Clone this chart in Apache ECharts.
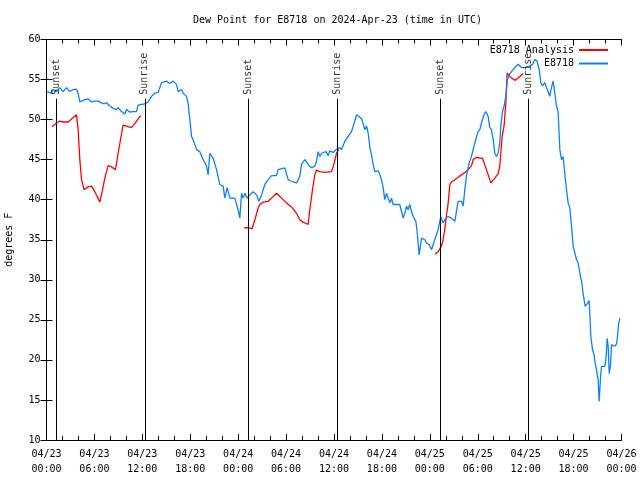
<!DOCTYPE html>
<html>
<head>
<meta charset="utf-8">
<script src="https://cdn.jsdelivr.net/npm/echarts@6/dist/echarts.min.js"></script>
<style>
html,body{margin:0;padding:0;background:#fff;}
#chart{width:640px;height:480px;}
</style>
</head>
<body>
<div id="chart"></div>
<script>
// Hours since 2024-04-23 00:00 UTC, dew point in degrees F
var obsData = [
[0,53.5],[0.20,53.5],[0.63,53.3],[0.83,53.75],[1.26,53.5],[1.67,54],[2.08,53.5],[2.51,54],[2.92,53.5],[3.33,53.75],
[3.76,53.8],[3.96,53.3],[4.17,52.2],[4.80,52.5],[5.21,52.6],[5.64,52.2],[6.05,52.3],[6.46,52.3],[6.68,52.4],[7.09,52.0],
[7.52,52.1],[7.93,51.7],[8.34,51.4],[8.77,51.25],[8.97,51.5],[9.39,51.0],[9.81,50.7],[10.02,51.25],[10.43,50.95],[10.85,51.0],
[11.27,51.0],[11.47,51.8],[11.90,51.9],[12.31,51.95],[12.73,52.2],[13.15,52.9],[13.56,53.3],[13.98,53.4],[14.40,54.6],[15.03,54.8],
[15.44,54.5],[15.86,54.8],[16.28,54.4],[16.48,53.5],[16.91,53.75],[17.11,53.3],[17.53,52.9],[17.73,52.1],[17.95,50.0],[18.16,47.9],
[18.36,47.5],[18.79,46.25],[19.20,46.0],[19.61,45.0],[20.04,44.2],[20.24,43.1],[20.45,45.8],[20.86,45.2],[21.29,43.75],[21.70,41.9],
[22.12,41.7],[22.33,40.2],[22.62,41.5],[22.96,40.2],[23.58,40.2],[23.79,40.0],[23.99,38.75],[24.21,37.7],[24.42,40.8],[24.62,40.2],
[24.83,40.8],[25.12,40.2],[25.46,40.6],[25.87,41.0],[26.30,40.6],[26.59,39.8],[26.93,40.6],[27.34,41.9],[27.75,42.5],[28.18,43.0],
[28.80,43.0],[29.00,43.75],[29.84,43.96],[30.05,43.75],[30.26,42.5],[30.68,42.3],[31.31,42.1],[31.72,42.9],[31.93,44.4],[32.35,45.0],
[32.76,44.4],[33.19,44.0],[33.60,44.2],[33.81,44.8],[34.01,46.0],[34.22,45.4],[34.44,45.8],[34.64,45.6],[34.98,46.0],[35.26,45.5],
[35.48,46.1],[35.89,45.9],[36.32,46.3],[36.73,46.5],[36.94,46.25],[37.36,47.3],[37.77,47.9],[38.20,48.5],[38.40,48.5],[38.83,50.6],
[39.03,50.4],[39.46,50.1],[39.86,48.75],[40.07,49.2],[40.28,48.3],[40.49,46.5],[40.70,45.6],[40.90,44.4],[41.11,43.5],[41.32,43.5],
[41.53,43.6],[41.74,43.1],[41.95,42.5],[42.15,41.5],[42.36,40.0],[42.57,40.8],[42.78,40.2],[42.99,39.6],[43.20,40.2],[43.40,39.4],
[44.24,39.4],[44.45,39.4],[44.66,37.7],[44.87,38.3],[45.08,39.2],[45.28,38.75],[45.49,39.4],[45.71,38.5],[45.91,37.9],[46.25,37.3],
[46.41,36.0],[46.66,33.1],[46.96,35.2],[47.37,35.0],[47.58,34.6],[47.91,34.4],[48.21,33.75],[48.41,33.75],[48.75,35.4],[49.04,36.25],
[49.37,37.9],[49.66,37.1],[50.00,37.7],[50.29,37.9],[50.71,37.7],[51.13,37.3],[51.54,39.8],[51.97,39.8],[52.17,39.2],[52.38,41.25],
[52.59,43.0],[52.92,44.6],[53.22,45.4],[53.42,46.25],[53.85,47.9],[54.05,48.5],[54.26,48.75],[54.47,49.6],[54.76,50.6],[55.01,51.0],
[55.30,50.4],[55.51,49.0],[55.72,48.75],[55.93,47.5],[56.14,45.8],[56.35,45.4],[56.55,45.8],[56.76,47.1],[56.89,49.2],[57.10,51.0],
[57.30,51.7],[57.52,52.9],[57.68,54.8],[57.93,55.6],[58.23,56.0],[58.64,56.5],[59.06,56.9],[59.48,56.5],[59.89,56.5],[60.52,56.7],
[60.86,56.9],[61.15,57.5],[61.43,57.3],[61.69,56.25],[61.90,54.6],[62.11,54.2],[62.40,54.6],[62.61,54.0],[62.81,53.5],[63.02,52.9],
[63.23,54.0],[63.44,54.8],[63.65,53.3],[63.86,51.7],[64.06,51.0],[64.28,46.25],[64.49,45.0],[64.69,45.4],[64.90,43.3],[65.11,41.25],
[65.32,39.6],[65.53,39.0],[65.74,36.7],[65.95,34.2],[66.16,34.4],[66.37,32.5],[66.57,32.1],[66.87,30.4],[67.04,29.6],[67.16,28.5],
[67.32,27.5],[67.45,26.7],[67.70,27.0],[67.95,27.4],[68.03,25.8],[68.16,22.9],[68.37,21.3],[68.57,20.6],[68.70,19.6],[68.87,18.75],
[69.08,17.5],[69.20,14.8],[69.38,17.9],[69.50,19.2],[69.91,19.2],[70.04,20.0],[70.21,22.7],[70.33,21.7],[70.46,18.3],[70.63,19.4],
[70.75,21.9],[70.96,22.0],[71.17,21.7],[71.38,22.0],[71.50,22.9],[71.63,24.4],[71.79,25.2]
];

var analysisSeg1 = [
[0.71,49.1],[1.26,49.6],[1.67,49.8],[2.08,49.7],[2.71,49.7],[3.76,50.6],[3.96,48.75],[4.17,45.0],[4.39,42.5],[4.71,41.25],
[5.21,41.6],[5.64,41.7],[6.05,41.0],[6.39,40.3],[6.68,39.7],[6.97,41.0],[7.30,42.7],[7.72,44.25],[8.14,44.1],[8.64,43.75],
[8.97,45.8],[9.59,49.3],[10.02,49.2],[10.65,49.0],[11.06,49.5],[11.77,50.5]
];
var analysisSeg2 = [
[24.75,36.5],[25.25,36.5],[25.75,36.4],[26.09,37.5],[26.50,38.96],[26.71,39.4],[27.12,39.7],[27.75,39.8],[28.18,40.2],[28.80,40.8],
[29.43,40.2],[30.05,39.6],[30.68,39.1],[31.31,38.3],[31.72,37.5],[32.13,37.2],[32.76,36.9],[32.97,38.75],[33.31,41.25],[33.60,43.1],
[33.81,43.7],[34.22,43.5],[34.85,43.4],[35.69,43.5],[35.98,44.4],[36.32,45.8],[36.60,46.3]
];
var analysisSeg3 = [
[48.62,33.2],[49.04,33.5],[49.46,34.2],[49.66,35.0],[49.87,36.25],[50.08,38.0],[50.29,39.5],[50.50,41.9],[50.71,42.2],[51.13,42.5],
[51.54,42.8],[51.97,43.1],[52.38,43.4],[52.79,43.75],[53.22,44.25],[53.42,45.0],[53.85,45.3],[54.26,45.2],[54.59,45.2],[55.09,43.75],
[55.64,42.1],[56.14,42.7],[56.55,43.25],[56.76,44.2],[56.89,45.8],[57.06,47.9],[57.30,49.25],[57.52,52.1],[57.68,55.8],[58.11,55.3],
[58.64,54.9],[59.06,55.2],[59.69,55.75]
];

var sunTimes = [1.25, 12.31, 25.24, 36.39, 49.31, 60.30];
var sunLabels = ['Sunset', 'Sunrise', 'Sunset', 'Sunrise', 'Sunset', 'Sunrise'];

var xTickLabels = ['04/23\n00:00','04/23\n06:00','04/23\n12:00','04/23\n18:00','04/24\n00:00','04/24\n06:00',
  '04/24\n12:00','04/24\n18:00','04/25\n00:00','04/25\n06:00','04/25\n12:00','04/25\n18:00','04/26\n00:00'];

var FONT = 'DejaVu Sans Mono';
var analysisData = analysisSeg1.concat([[18, '-']], analysisSeg2, [[42, '-']], analysisSeg3);

var chart = echarts.init(document.getElementById('chart'), null, {renderer: 'canvas'});
var txt = {color: '#000', fontFamily: FONT, fontSize: 10};

var xCommon = {
  type: 'value', min: 0, max: 72, interval: 6,
  axisLine: {show: true, lineStyle: {color: '#000', width: 1}},
  axisTick: {show: true, inside: true, length: 6, lineStyle: {color: '#000'}},
  minorTick: {show: true, splitNumber: 3, length: 4, lineStyle: {color: '#000'}},
  splitLine: {show: false}, minorSplitLine: {show: false}
};
var yCommon = {
  type: 'value', min: 10, max: 60, interval: 5,
  axisLine: {show: true, lineStyle: {color: '#000', width: 1}},
  axisTick: {show: true, inside: true, length: 6, lineStyle: {color: '#000'}},
  splitLine: {show: false}
};

chart.setOption({
  animation: false,
  backgroundColor: '#fff',
  title: {
    text: 'Dew Point for E8718 on 2024-Apr-23 (time in UTC)',
    left: 188, top: 9,
    textStyle: {color: '#000', fontFamily: FONT, fontSize: 10, fontWeight: 'normal', lineHeight: 12}
  },
  legend: [
    {data: ['E8718 Analysis'], right: 27, top: 40, align: 'right', icon: 'rect', itemWidth: 29, itemHeight: 2,
     textStyle: txt, selectedMode: false},
    {data: ['E8718'], right: 27, top: 53.5, align: 'right', icon: 'rect', itemWidth: 29, itemHeight: 2,
     textStyle: txt, selectedMode: false}
  ],
  grid: {left: 46.5, right: 18.5, top: 39.5, bottom: 40, show: false, containLabel: false, outerBoundsMode: 'none'},
  xAxis: [
    Object.assign({}, xCommon, {
      position: 'bottom',
      axisLabel: {show: true, margin: 7, lineHeight: 15, color: '#000', fontFamily: FONT, fontSize: 10,
        formatter: function (v) { return xTickLabels[Math.round(v / 6)]; }}
    }),
    Object.assign({}, xCommon, {position: 'top', axisLabel: {show: false}})
  ],
  yAxis: [
    Object.assign({}, yCommon, {
      position: 'left',
      name: 'degrees F', nameLocation: 'middle', nameGap: 32, nameRotate: 90,
      nameTextStyle: {color: '#000', fontFamily: FONT, fontSize: 10},
      axisLabel: {show: true, margin: 6, color: '#000', fontFamily: FONT, fontSize: 10}
    }),
    Object.assign({}, yCommon, {position: 'right', axisLabel: {show: false}})
  ],
  series: [
    {
      name: 'E8718 Analysis', type: 'line', data: analysisData, showSymbol: false, symbol: 'none',
      connectNulls: false, lineStyle: {color: '#ff0000', width: 1.3}, itemStyle: {color: '#ff0000'},
      emphasis: {disabled: true}, z: 3
    },
    {
      name: 'E8718', type: 'line', data: obsData, showSymbol: false, symbol: 'none',
      lineStyle: {color: '#0a80ff', width: 1.3}, itemStyle: {color: '#0a80ff'},
      emphasis: {disabled: true}, z: 4
    },
    {
      name: 'sun', type: 'scatter', symbolSize: 1, silent: true,
      itemStyle: {color: 'rgba(0,0,0,0)'},
      data: sunTimes.map(function (t) { return [t, 53.1]; }),
      label: {
        show: true, position: 'inside', rotate: 90, align: 'left', verticalAlign: 'middle',
        color: '#000', fontFamily: FONT, fontSize: 10,
        formatter: function (p) { return sunLabels[p.dataIndex]; }
      },
      emphasis: {disabled: true},
      markLine: {
        silent: true, symbol: ['none', 'none'], animation: false,
        lineStyle: {color: '#000', width: 1, type: 'solid'},
        label: {show: false}, emphasis: {disabled: true},
        data: sunTimes.map(function (t) { return [{coord: [t, 10]}, {coord: [t, 52.6]}]; })
      },
      z: 5
    }
  ]
});
</script>
</body>
</html>
